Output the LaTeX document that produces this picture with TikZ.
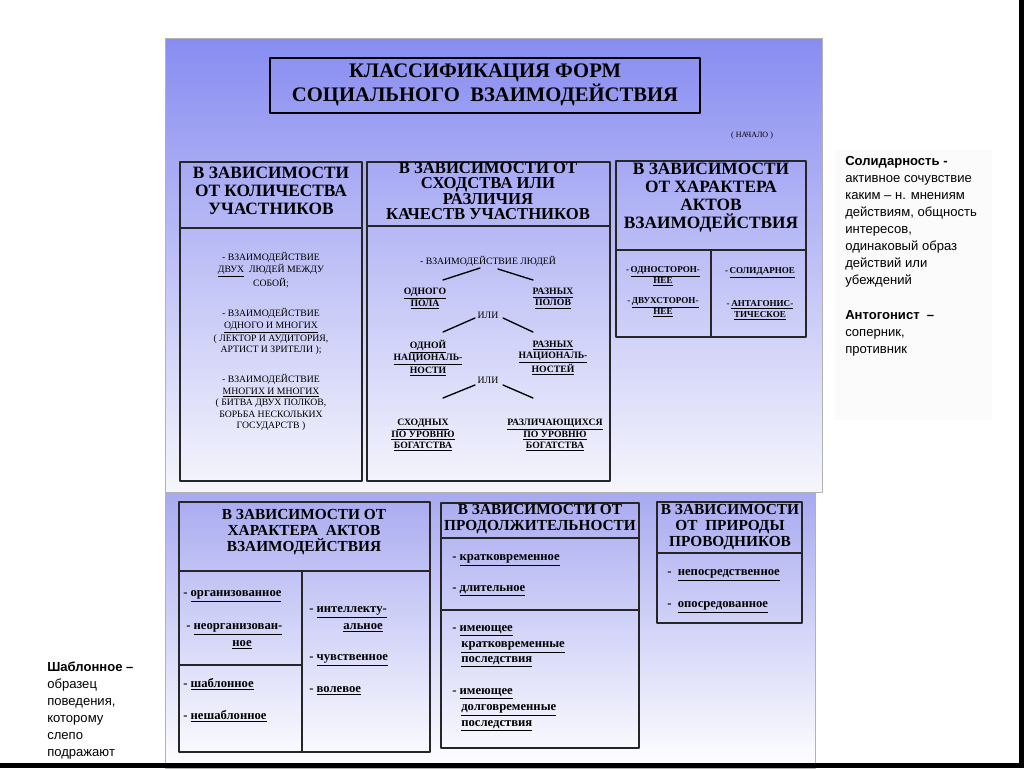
\documentclass[tikz,border=0pt]{standalone}
\usepackage{fontspec}
\setmainfont{Liberation Serif}
\newfontfamily\notefont{Liberation Sans}
\usetikzlibrary{positioning}
\definecolor{panelTop}{RGB}{136,140,240}
\definecolor{panelBot}{RGB}{246,246,252}
\definecolor{lowTop}{RGB}{168,170,240}
\tikzset{
  panel/.style={draw=black!30,line width=.4pt},
  frame/.style={draw=black!85,line width=1.1pt},
  title frame/.style={draw=black,line width=2.2pt},
  head/.style={font=\fontsize{13}{13.5}\selectfont\bfseries,align=center,inner sep=0pt},
  low head/.style={font=\fontsize{11.5}{12}\selectfont\bfseries,align=center,inner sep=0pt},
  plain item/.style={font=\fontsize{7.3}{8.6}\selectfont,align=center,inner sep=0pt},
  bold item/.style={font=\fontsize{7.3}{8.3}\selectfont\bfseries,align=center,inner sep=0pt},
  low item/.style={font=\fontsize{9.5}{11}\selectfont\bfseries,anchor=west,inner sep=0pt},
  note/.style={font=\notefont\fontsize{9.8}{12.75}\selectfont,align=left,anchor=north west,inner sep=0pt},
  tree line/.style={line width=1pt}
}
\newcommand{\Ul}[1]{\underline{#1}}

\begin{document}
\begin{tikzpicture}[x=0.75pt,y=-0.75pt,line cap=round,line join=round]
  \useasboundingbox (0,0) rectangle (1024,768);
  \fill[white] (0,0) rectangle (1024,768);

  % panels
  \shade[top color=panelTop,bottom color=panelBot] (165,38) rectangle (822,492);
  \draw[panel] (165,38) rectangle (822,492);
  \shade[top color=lowTop,bottom color=white] (165,493) rectangle (815,768);
  \draw[panel] (165,493) rectangle (815,768);
  \fill[black!1.5] (835,150) rectangle (992,420);

  % title
  \draw[title frame] (270,58) rectangle (700,113);
  \node[font=\fontsize{15.5}{16.5}\selectfont\bfseries,align=center,inner sep=0pt] (title) at (485,85)
    {КЛАССИФИКАЦИЯ ФОРМ\\СОЦИАЛЬНОГО~~ВЗАИМОДЕЙСТВИЯ};
  \node[font=\fontsize{6}{6}\selectfont,inner sep=0pt] (start) at (752,136) {( НАЧАЛО )};

  % box 1
  \draw[frame] (180,162) rectangle (362,481);
  \draw[frame] (180,228) -- (362,228);
  \node[head] (h1) at (271,191) {В ЗАВИСИМОСТИ\\ОТ КОЛИЧЕСТВА\\УЧАСТНИКОВ};
  \node[plain item] (q1) at (271,270.5) {- ВЗАИМОДЕЙСТВИЕ\\\Ul{ДВУХ}~~ЛЮДЕЙ МЕЖДУ\\СОБОЙ;};
  \node[plain item] (q2) at (271,331.5) {- ВЗАИМОДЕЙСТВИЕ\\\Ul{ОДНОГО И МНОГИХ}\\( ЛЕКТОР И АУДИТОРИЯ,\\АРТИСТ И ЗРИТЕЛИ );};
  \node[plain item] (q3) at (271,402.5) {- ВЗАИМОДЕЙСТВИЕ\\\Ul{МНОГИХ И МНОГИХ}\\( БИТВА ДВУХ ПОЛКОВ,\\БОРЬБА НЕСКОЛЬКИХ\\ГОСУДАРСТВ )};

  % box 2
  \draw[frame] (367,162) rectangle (610,481);
  \draw[frame] (367,226) -- (610,226);
  \node[head,font=\fontsize{12.5}{11.4}\selectfont\bfseries] (h2) at (488,191)
    {В ЗАВИСИМОСТИ ОТ\\СХОДСТВА ИЛИ\\РАЗЛИЧИЯ\\КАЧЕСТВ УЧАСТНИКОВ};
  \node[plain item] (people) at (488,261) {- ВЗАИМОДЕЙСТВИЕ ЛЮДЕЙ};
  \node[bold item] (sex1) at (425,298.5) {\Ul{ОДНОГО}\\\Ul{ПОЛА}};
  \node[bold item] (sex2) at (553,298.5) {\Ul{РАЗНЫХ}\\\Ul{ПОЛОВ}};
  \node[plain item] (or1) at (488,315) {ИЛИ};
  \node[bold item] (nat1) at (428,358) {\Ul{ОДНОЙ}\\\Ul{НАЦИОНАЛЬ-}\\\Ul{НОСТИ}};
  \node[bold item] (nat2) at (553,358) {\Ul{РАЗНЫХ}\\\Ul{НАЦИОНАЛЬ-}\\\Ul{НОСТЕЙ}};
  \node[plain item] (or2) at (488,380) {ИЛИ};
  \node[bold item] (rich1) at (423,435) {\Ul{СХОДНЫХ}\\\Ul{ПО УРОВНЮ}\\\Ul{БОГАТСТВА}};
  \node[bold item] (rich2) at (555,435) {\Ul{РАЗЛИЧАЮЩИХСЯ}\\\Ul{ПО УРОВНЮ}\\\Ul{БОГАТСТВА}};

  \coordinate (a1) at (480,268); \coordinate (a2) at (443,280);
  \coordinate (a3) at (498,269); \coordinate (a4) at (533,280);
  \coordinate (b1) at (475,318); \coordinate (b2) at (443,332);
  \coordinate (b3) at (503,318); \coordinate (b4) at (533,332);
  \coordinate (c1) at (475,385); \coordinate (c2) at (443,398);
  \coordinate (c3) at (503,385); \coordinate (c4) at (533,398);
  \draw[tree line] (a1)--(a2) (a3)--(a4) (b1)--(b2) (b3)--(b4) (c1)--(c2) (c3)--(c4);

  % box 3
  \draw[frame] (616,161) rectangle (806,337);
  \draw[frame] (616,250) -- (806,250) (711,250) -- (711,337);
  \node[head] (h3) at (711,198) {В ЗАВИСИМОСТИ\\ОТ ХАРАКТЕРА\\АКТОВ\\ВЗАИМОДЕЙСТВИЯ};
  \node[bold item,font=\fontsize{6.8}{8.3}\selectfont\bfseries] (one) at (663,276) {-\,\Ul{ОДНОСТОРОН-}\\\Ul{НЕЕ}};
  \node[bold item,font=\fontsize{6.8}{8.3}\selectfont\bfseries] (two) at (663,307.5) {-\,\Ul{ДВУХСТОРОН-}\\\Ul{НЕЕ}};
  \node[bold item,font=\fontsize{6.8}{8.3}\selectfont\bfseries] (sol) at (760,273) {-\,\Ul{СОЛИДАРНОЕ}};
  \node[bold item,font=\fontsize{6.8}{8.3}\selectfont\bfseries] (ant) at (760,310) {-\,\Ul{АНТАГОНИС-}\\\Ul{ТИЧЕСКОЕ}};

  % box 4
  \draw[frame] (179,502) rectangle (430,752);
  \draw[frame] (179,571) -- (430,571) (302,571) -- (302,752) (179,665) -- (302,665);
  \node[low head] (h4) at (304,532) {В ЗАВИСИМОСТИ ОТ\\ХАРАКТЕРА~~АКТОВ\\ВЗАИМОДЕЙСТВИЯ};
  \node[low item] (org) at (183,596) {- \Ul{организованное}};
  \node[low item] (norg) at (186,629) {- \Ul{неорганизован-}};
  \node[low item,anchor=center] (norg2) at (242,645) {\Ul{ное}};
  \node[low item] (tmpl) at (183,684) {- \Ul{шаблонное}};
  \node[low item] (ntmpl) at (183,716) {- \Ul{нешаблонное}};
  \node[low item] (intl) at (309,612) {- \Ul{интеллекту-}};
  \node[low item,anchor=center] (intl2) at (363,628) {\Ul{альное}};
  \node[low item] (feel) at (309,660) {- \Ul{чувственное}};
  \node[low item] (will) at (309,691) {- \Ul{волевое}};

  % box 5
  \draw[frame] (441,503) rectangle (639,748);
  \draw[frame] (441,538) -- (639,538) (441,610) -- (639,610);
  \node[low head] (h5) at (540,519) {В ЗАВИСИМОСТИ ОТ\\ПРОДОЛЖИТЕЛЬНОСТИ};
  \node[low item] (short) at (452,560) {- \Ul{кратковременное}};
  \node[low item] (long) at (452,591) {- \Ul{длительное}};
  \node[low item] (eff1) at (452,631) {- \Ul{имеющее}};
  \node[low item] (eff1b) at (461,647) {\Ul{кратковременные}};
  \node[low item] (eff1c) at (461,662) {\Ul{последствия}};
  \node[low item] (eff2) at (452,694) {- \Ul{имеющее}};
  \node[low item] (eff2b) at (461,710) {\Ul{долговременные}};
  \node[low item] (eff2c) at (461,726) {\Ul{последствия}};

  % box 6
  \draw[frame] (657,502) rectangle (802,623);
  \draw[frame] (657,553) -- (802,553);
  \node[low head] (h6) at (730,527) {В ЗАВИСИМОСТИ\\ОТ~~ПРИРОДЫ\\ПРОВОДНИКОВ};
  \node[low item] (direct) at (667,575) {-~~\Ul{непосредственное}};
  \node[low item] (indirect) at (667,607) {-~~\Ul{опосредованное}};

  % notes
  \node[note] (solid) at (845,156) {\textbf{Солидарность -}\\активное сочувствие\\каким – н. мнениям\\действиям, общность\\интересов,\\одинаковый образ\\действий или\\убеждений};
  \node[note] (antag) at (845,310) {\textbf{Антогонист~~–}\\соперник,\\противник};
  \node[note] (tmplnote) at (47,662) {\textbf{Шаблонное –}\\образец\\поведения,\\которому\\слепо\\подражают};

  % dark edges
  \fill[black] (1019,0) rectangle (1024,768);
  \fill[black] (0,763) rectangle (1024,768);
\end{tikzpicture}
\end{document}
